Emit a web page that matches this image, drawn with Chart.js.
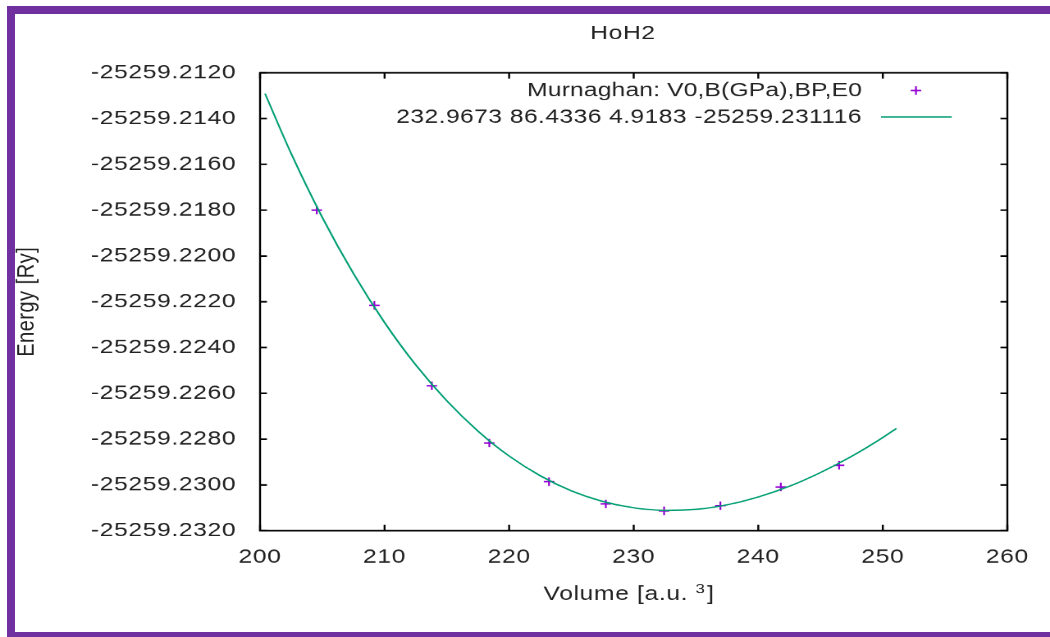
<!DOCTYPE html>
<html lang="en">
<head>
    <meta charset="UTF-8">
    <title>HoH2 - Murnaghan fit</title>
    <script src="https://cdn.jsdelivr.net/npm/chart.js"></script>
    <style>
        html, body {
            margin: 0;
            padding: 0;
            background: #fff;
            overflow: hidden;
        }
        /* chart is laid out at 640x480 and stretched to the page */
        #stage {
            position: absolute;
            left: 0;
            top: 0;
            width: 640px;
            height: 480px;
            transform-origin: 0 0;
            transform: scale(1.640625, 1.3270833);
        }
        #frame {
            position: absolute;
            left: 7px;
            top: 6px;
            width: 1100px;
            height: 634px;
            box-sizing: border-box;
            border: 8px solid #7030a0;
            pointer-events: none;
        }
    </style>
</head>
<body>
    <div id="stage"><canvas id="eosChart" width="640" height="480"></canvas></div>
    <div id="frame"></div>

    <script>
        // calculated E(V) points
        const volume = [204.55, 209.18, 213.79, 218.41, 223.20, 227.76, 232.44, 236.96, 241.81, 246.49];
        const energy = [-25259.21800, -25259.22216, -25259.22567, -25259.22817, -25259.22986,
                        -25259.23083, -25259.23113, -25259.23091, -25259.23009, -25259.22914];

        // Murnaghan fit curve
        const fitVolume = [200.4, 202.5, 205, 207.5, 210, 212.5, 215, 217.5, 220, 222.5, 225,
                           227.5, 230, 232.5, 235, 237.5, 240, 242.5, 245, 247.5, 250, 251.1];
        const fitEnergy = [-25259.21291, -25259.21553, -25259.21832, -25259.22077, -25259.22291,
                           -25259.22476, -25259.22633, -25259.22765, -25259.22874, -25259.22960,
                           -25259.23026, -25259.23072, -25259.23100, -25259.23111, -25259.23107,
                           -25259.23087, -25259.23053, -25259.23006, -25259.22946, -25259.22875,
                           -25259.22793, -25259.22753];

        const xTicks = [200, 210, 220, 230, 240, 250, 260];
        const yTicks = [-25259.2320, -25259.2300, -25259.2280, -25259.2260, -25259.2240, -25259.2220,
                        -25259.2200, -25259.2180, -25259.2160, -25259.2140, -25259.2120];

        const titleText = 'HoH2';
        const xTitleParts = ['Volume [a.u. ', '3', ']'];   // middle part is a superscript
        const yTitle = 'Energy [Ry]';
        const legendLabels = ['Murnaghan: V0,B(GPa),BP,E0', '232.9673 86.4336 4.9183 -25259.231116'];

        const FONT = "'Liberation Sans', Arial, sans-serif";
        const textColor = '#222';
        const pointColor = '#9400d3';
        const lineColor = '#009e73';

        function toXY(xs, ys) {
            return xs.map((x, i) => ({ x: x, y: ys[i] }));
        }

        function drawCross(ctx, x, y, r) {
            ctx.moveTo(x - r, y);
            ctx.lineTo(x + r, y);
            ctx.moveTo(x, y - r);
            ctx.lineTo(x, y + r);
        }

        // box border, inward mirrored ticks, titles and key
        const gnuplotDecor = {
            id: 'gnuplotDecor',
            beforeDraw(chart) {
                chart.ctx.letterSpacing = '0.4px';
            },
            afterDraw(chart) {
                const { ctx, chartArea: a, scales: { x, y } } = chart;
                ctx.save();

                ctx.strokeStyle = '#000';
                ctx.lineWidth = 1.2;
                ctx.strokeRect(a.left, a.top, a.right - a.left, a.bottom - a.top);
                ctx.beginPath();
                x.ticks.forEach(t => {
                    const px = x.getPixelForValue(t.value);
                    ctx.moveTo(px, a.bottom);
                    ctx.lineTo(px, a.bottom - 4.5);
                    ctx.moveTo(px, a.top);
                    ctx.lineTo(px, a.top + 4.5);
                });
                y.ticks.forEach(t => {
                    const py = y.getPixelForValue(t.value);
                    ctx.moveTo(a.left, py);
                    ctx.lineTo(a.left + 4.2, py);
                    ctx.moveTo(a.right, py);
                    ctx.lineTo(a.right - 4.2, py);
                });
                ctx.stroke();

                ctx.fillStyle = textColor;
                ctx.font = '15px ' + FONT;
                ctx.textBaseline = 'middle';
                ctx.textAlign = 'center';
                ctx.fillText(titleText, 379.7, 25.6);

                // x axis title with superscript
                ctx.textAlign = 'left';
                ctx.textBaseline = 'alphabetic';
                ctx.letterSpacing = '0.4px';
                const mainFont = '15px ' + FONT, supFont = '10px ' + FONT;
                ctx.font = mainFont;
                const w0 = ctx.measureText(xTitleParts[0]).width;
                const w2 = ctx.measureText(xTitleParts[2]).width;
                ctx.font = supFont;
                const w1 = ctx.measureText(xTitleParts[1]).width + 1;
                let tx = 383.4 - (w0 + w1 + w2) / 2;
                const base = 452.1;
                ctx.font = mainFont;
                ctx.fillText(xTitleParts[0], tx, base);
                tx += w0;
                ctx.font = supFont;
                ctx.fillText(xTitleParts[1], tx, base - 4.9);
                tx += w1;
                ctx.font = mainFont;
                ctx.fillText(xTitleParts[2], tx, base);

                // key
                const keyRight = 525.4, keyTop = 68.2, rowH = 20;
                ctx.textAlign = 'right';
                ctx.textBaseline = 'middle';
                legendLabels.forEach((label, i) => {
                    ctx.letterSpacing = i === 0 ? '0.1px' : '0.27px';
                    ctx.fillText(label, keyRight, keyTop + i * rowH);
                });

                ctx.lineWidth = 1.1;
                ctx.strokeStyle = pointColor;
                ctx.beginPath();
                drawCross(ctx, 558.3, keyTop, 3.2);
                ctx.stroke();

                ctx.strokeStyle = lineColor;
                ctx.beginPath();
                ctx.moveTo(537, keyTop + rowH);
                ctx.lineTo(580.1, keyTop + rowH);
                ctx.stroke();

                ctx.restore();
            }
        };

        const tickFont = { family: FONT, size: 15 };

        new Chart(document.getElementById('eosChart'), {
            type: 'scatter',
            data: {
                datasets: [
                    {
                        label: legendLabels[1],
                        data: toXY(fitVolume, fitEnergy),
                        showLine: true,
                        borderColor: lineColor,
                        borderWidth: 1.1,
                        pointRadius: 0,
                        cubicInterpolationMode: 'monotone',
                        fill: false,
                        order: 0
                    },
                    {
                        label: legendLabels[0],
                        data: toXY(volume, energy),
                        showLine: false,
                        pointStyle: 'cross',
                        pointRadius: 3.2,
                        pointBorderColor: pointColor,
                        pointBorderWidth: 1.1,
                        order: 1
                    }
                ]
            },
            options: {
                responsive: false,
                devicePixelRatio: 2,
                animation: false,
                events: [],
                layout: { padding: { left: 0, right: 26, top: 54.8, bottom: 0 } },
                plugins: {
                    legend: { display: false },
                    tooltip: { enabled: false }
                },
                scales: {
                    x: {
                        type: 'linear',
                        min: xTicks[0],
                        max: xTicks[xTicks.length - 1],
                        afterBuildTicks: s => { s.ticks = xTicks.map(v => ({ value: v })); },
                        afterFit: s => { s.height = 80.1; },
                        grid: { display: false, drawTicks: false },
                        border: { display: false },
                        ticks: { color: textColor, font: tickFont, padding: 11.2, maxRotation: 0, autoSkip: false }
                    },
                    y: {
                        type: 'linear',
                        min: yTicks[0],
                        max: yTicks[yTicks.length - 1],
                        afterBuildTicks: s => { s.ticks = yTicks.map(v => ({ value: v })); },
                        afterFit: s => { s.width = 158.5; },
                        grid: { display: false, drawTicks: false },
                        border: { display: false },
                        ticks: {
                            color: textColor,
                            font: tickFont,
                            padding: 14.5,
                            autoSkip: false,
                            callback: v => v.toFixed(4)
                        },
                        title: { display: true, text: yTitle, color: textColor, font: tickFont, padding: { top: 7.5, bottom: 0 } }
                    }
                }
            },
            plugins: [gnuplotDecor]
        });
    </script>
</body>
</html>
